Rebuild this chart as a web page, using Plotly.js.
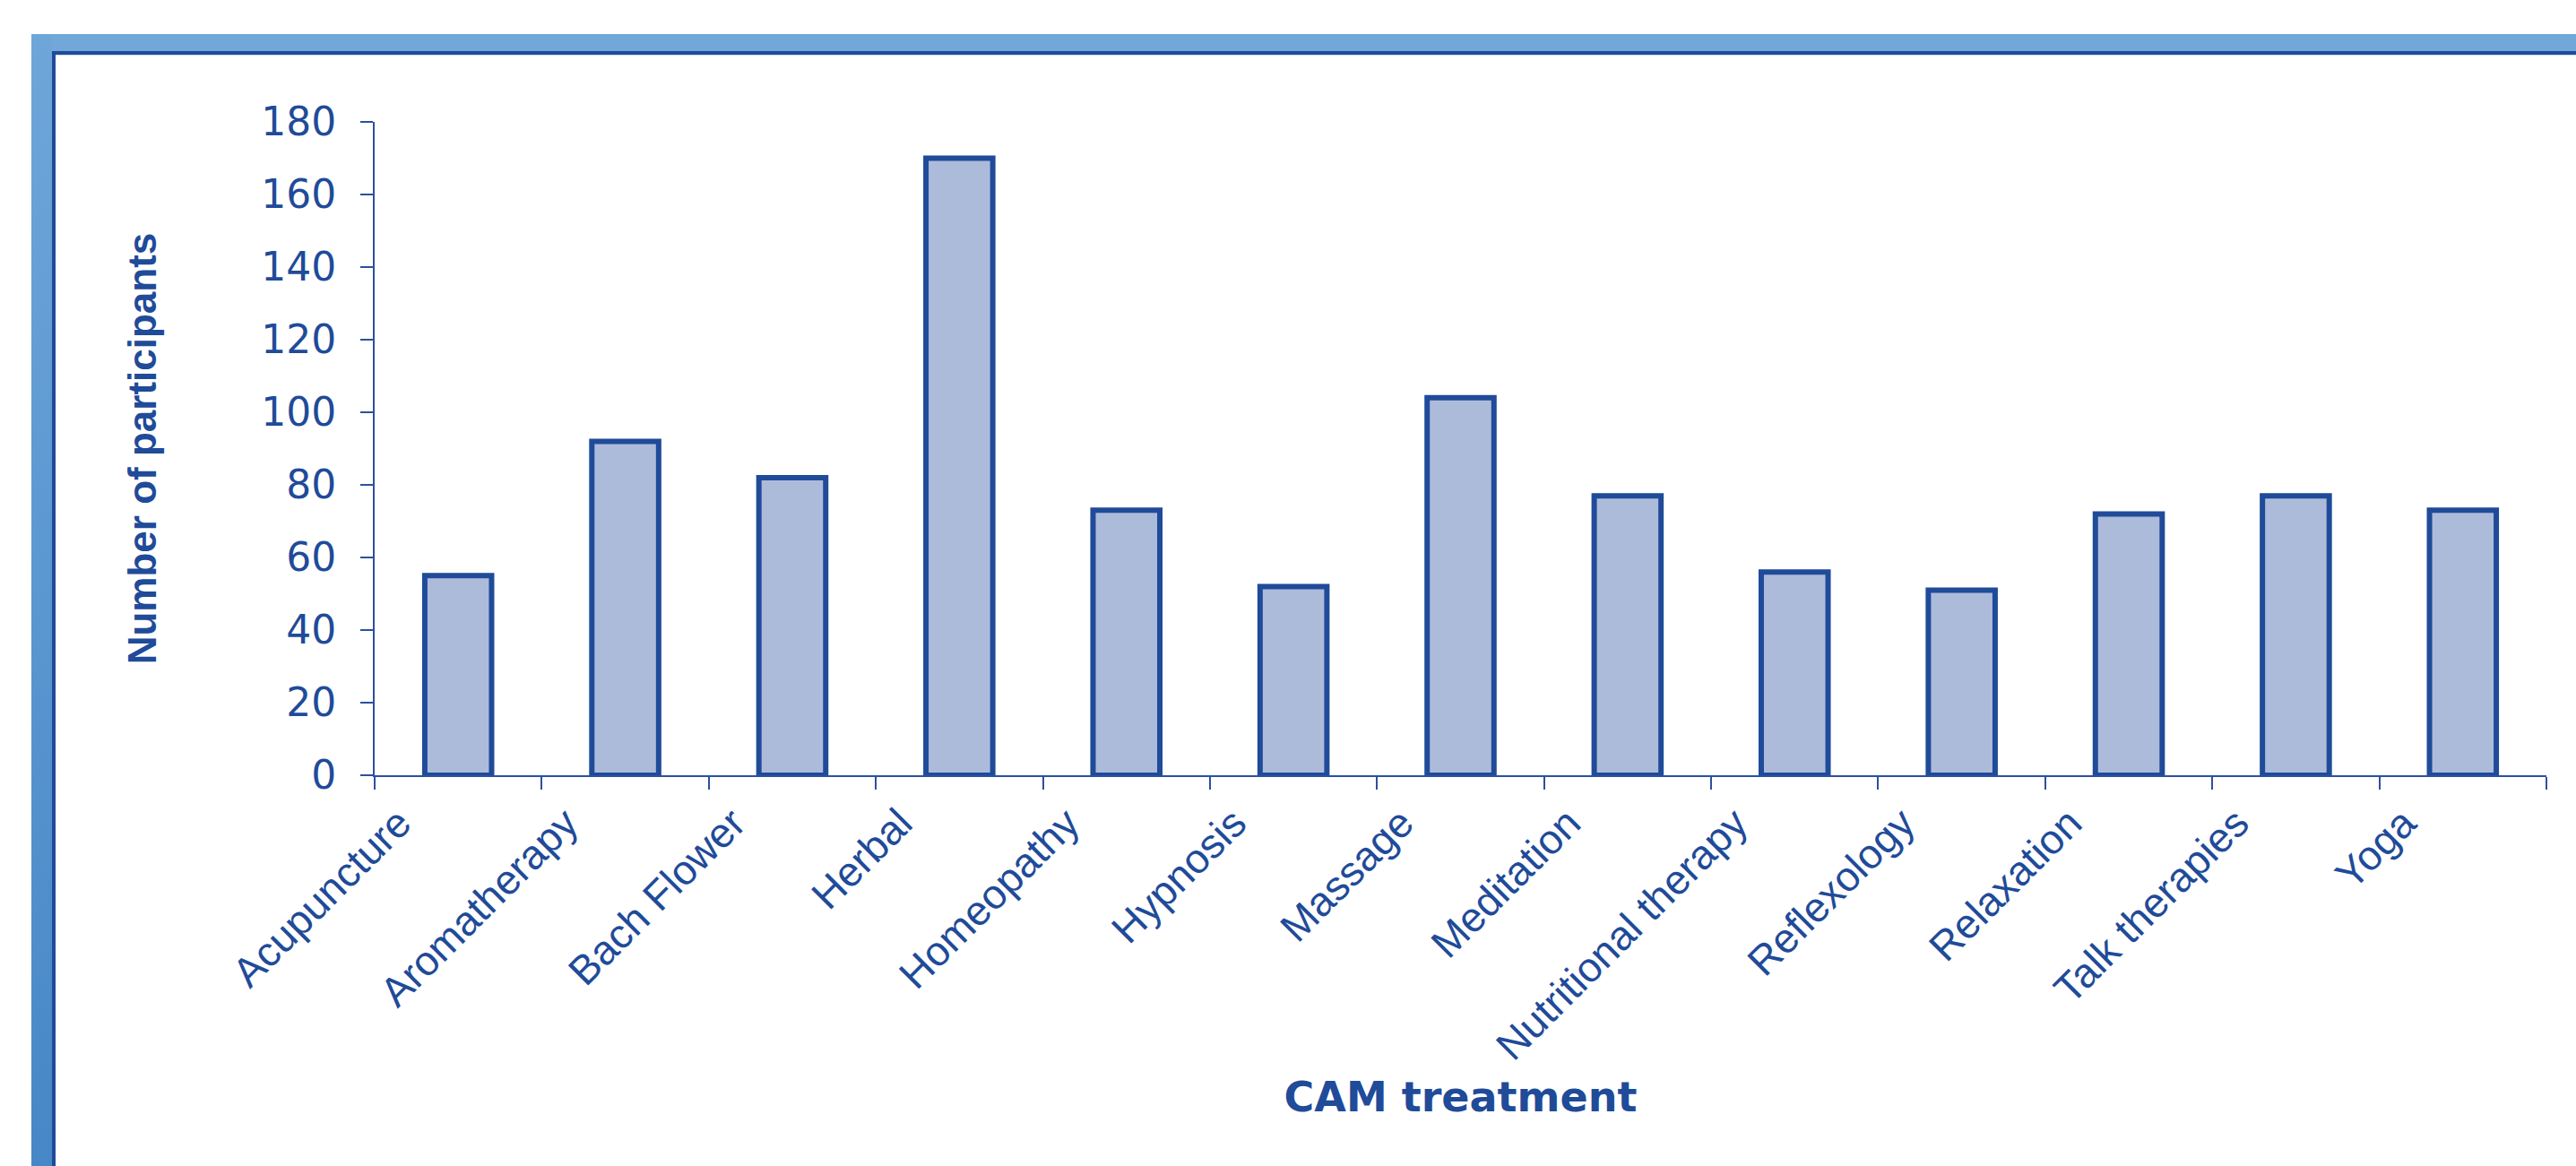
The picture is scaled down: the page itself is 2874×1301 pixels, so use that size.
<!DOCTYPE html>
<html>
<head>
<meta charset="utf-8">
<script src="https://cdn.plot.ly/plotly-3.0.1.min.js"></script>
<style>
  html, body { margin: 0; padding: 0; background: #ffffff; }
  #wrap { position: relative; width: 2874px; height: 1301px; overflow: hidden; }
  #chart { position: absolute; left: 0; top: 0; width: 2874px; height: 1301px; }
  .band { position: absolute; pointer-events: none; }
</style>
</head>
<body>
<div id="wrap">
  <div id="chart"></div>
  <div class="band" style="left:35px;top:38px;width:2839px;height:19px;background:#71a7d9;"></div>
  <div class="band" style="left:35px;top:38px;width:23px;height:1263px;background:linear-gradient(#6ea6d9,#4787c7);"></div>
  <div class="band" style="left:58px;top:57px;width:2816px;height:4px;background:#1f4b99;"></div>
  <div class="band" style="left:58px;top:57px;width:4px;height:1244px;background:#1f4b99;"></div>
  <div class="band" style="left:62px;top:61px;width:2812px;height:1px;background:#c9dbf1;"></div>
</div>
<script>
const categories = ["Acupuncture", "Aromatherapy", "Bach Flower", "Herbal", "Homeopathy",
  "Hypnosis", "Massage", "Meditation", "Nutritional therapy", "Reflexology",
  "Relaxation", "Talk therapies", "Yoga"];
const participants = [55, 92, 82, 170, 73, 52, 104, 77, 56, 51, 72, 77, 73];
const yTickValues = [0, 20, 40, 60, 80, 100, 120, 140, 160, 180];

const ink = "#1f4b99";
const axisInk = "#2b50a0";

const trace = {
  type: "bar",
  x: categories,
  y: participants,
  marker: { color: "#adbbdb", line: { color: "#1f4b99", width: 6 } },
  hoverinfo: "x+y",
  showlegend: false
};

const layout = {
  width: 2874,
  height: 1301,
  autosize: false,
  margin: { l: 418, r: 33, t: 136, b: 436 },
  paper_bgcolor: "#ffffff",
  plot_bgcolor: "#ffffff",
  bargap: 0.6,
  showlegend: false,
  xaxis: {
    type: "category",
    categoryorder: "array",
    categoryarray: categories,
    range: [-0.5, categories.length - 0.5],
    showline: true,
    linecolor: axisInk,
    linewidth: 2,
    ticks: "outside",
    tickson: "boundaries",
    ticklen: 14,
    tickwidth: 2,
    tickcolor: axisInk,
    showgrid: false,
    zeroline: false,
    tickangle: -45,
    ticklabelshift: -66,
    ticklabelstandoff: 6,
    tickfont: { family: "Arial, 'Liberation Sans', sans-serif", size: 46, color: ink },
    title: {
      text: "CAM treatment",
      font: { family: "'DejaVu Sans', sans-serif", size: 46, color: ink, weight: "bold" },
      standoff: 16
    }
  },
  yaxis: {
    range: [0, 180],
    tickvals: yTickValues,
    ticktext: yTickValues.map(String),
    showline: true,
    linecolor: axisInk,
    linewidth: 2,
    ticks: "outside",
    ticklen: 14,
    tickwidth: 2,
    tickcolor: axisInk,
    showgrid: false,
    zeroline: false,
    ticklabelstandoff: 18,
    tickfont: { family: "'DejaVu Sans', sans-serif", size: 44, color: ink },
    title: {
      text: "Number of participants",
      font: { family: "Arial, 'Liberation Sans', sans-serif", size: 44, color: ink, weight: "bold" },
      standoff: 103
    }
  }
};

Plotly.newPlot("chart", [trace], layout, { staticPlot: true, displayModeBar: false });
</script>
</body>
</html>
